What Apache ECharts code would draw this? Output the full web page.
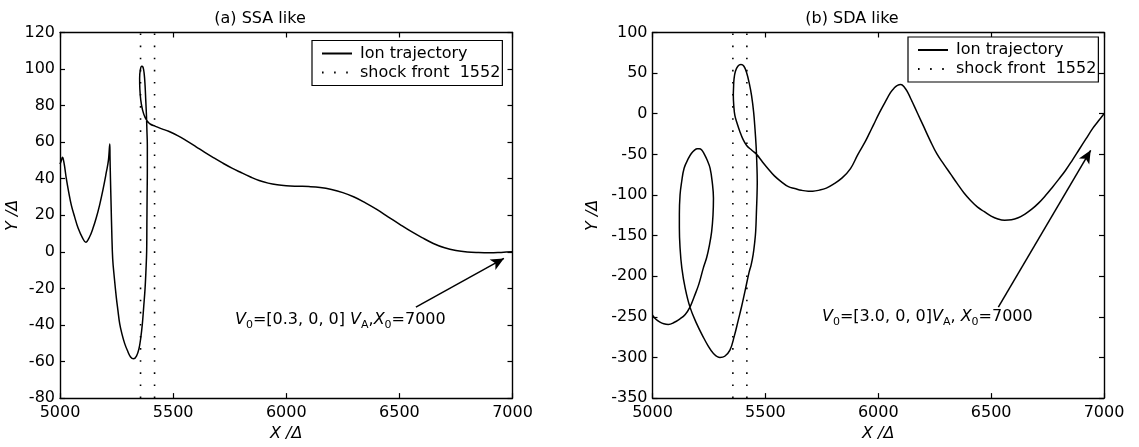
<!DOCTYPE html>
<html><head><meta charset="utf-8">
<script src="https://cdn.jsdelivr.net/npm/echarts@6/dist/echarts.min.js"></script>
<style>html,body{margin:0;padding:0;background:#fff}#c{width:1139px;height:447px}</style>
</head><body><div id="c"></div>
<script>
// ---------- data ----------
const panelTitles = ['(a) SSA like', '(b) SDA like'];
const seriesNames = ['Ion trajectory', 'shock front  1552'];
const xRange = [5000, 7000], xStep = 500;
const yRangeA = [-80, 120], yStepA = 20;
const yRangeB = [-350, 100], yStepB = 50;
const shockFront = [5356, 5418];

// (a) SSA like trajectory (x, y) in path order, starting at X0 = 7000
const trajA = [[7000,0],[6950,-0.3],[6900,-0.5],[6850,-0.4],[6800,-0.1],[6750,0.7],[6700,2.2],[6650,4.6],[6600,7.8],[6550,11.3],[6500,15.2],[6450,19.2],[6400,23.2],[6350,26.8],[6300,30],[6250,32.4],[6200,34.1],[6150,35.2],[6100,35.7],[6050,35.9],[6000,36.2],[5960,36.7],[5920,37.6],[5880,39],[5840,41.1],[5800,43.4],[5760,45.8],[5720,48.5],[5680,51.4],[5640,54.4],[5600,57.6],[5560,60.7],[5520,63.6],[5480,66],[5450,67.3],[5420,68.8],[5400,69.8],[5388,71.2],[5376,73.5],[5365,77.5],[5357,83],[5353,89],[5352,95],[5355,99.5],[5361,101.5],[5367,101],[5372,97.5],[5376,91],[5379,83],[5382,75],[5384,67],[5386,58],[5386,45],[5385,30],[5384,15],[5383,0],[5380,-10],[5376,-20],[5370,-30],[5364,-39.4],[5357,-47],[5349,-53],[5338,-57],[5325,-58.5],[5312,-57.5],[5298,-54],[5286,-50.2],[5274,-45],[5264,-39.4],[5256,-32],[5249,-25],[5240,-14],[5233,-4],[5229,10],[5226,25],[5223,40],[5221,52],[5220,59],[5214,50],[5205,43.7],[5190,34],[5175,25.6],[5160,18.5],[5146,13],[5130,8],[5114,5.3],[5100,7.5],[5080,13],[5065,19],[5050,25.6],[5038,33],[5028,40],[5020,47],[5014,51],[5011,51.8],[5006,50],[5000,48]];

// (b) SDA like trajectory (x, y) in path order, starting at X0 = 7000
const trajB = [[7000,0],[6975,-9],[6950,-18],[6920,-31],[6890,-44],[6860,-57],[6830,-69.5],[6800,-80.5],[6770,-91],[6740,-101],[6710,-110],[6680,-117.5],[6650,-123.5],[6620,-128],[6590,-130.5],[6560,-131],[6530,-129.5],[6500,-126],[6470,-120.5],[6440,-115],[6410,-107],[6380,-97.5],[6350,-86],[6320,-74],[6290,-62],[6260,-49.5],[6230,-33],[6200,-15],[6175,0],[6150,15],[6130,26.5],[6115,33],[6100,36],[6085,35],[6070,31.5],[6054,26],[6030,14],[6006,1.6],[5980,-13],[5960,-24.5],[5941,-35],[5910,-50],[5877,-67.5],[5840,-79],[5800,-87],[5770,-91.5],[5740,-94],[5710,-95.3],[5690,-95.3],[5660,-94.3],[5630,-92],[5602,-89.8],[5570,-83.5],[5540,-76.5],[5510,-67],[5485,-58.5],[5461,-50],[5440,-45],[5417,-39],[5400,-31],[5388,-22.7],[5375,-12],[5365,-2.4],[5360,10],[5358,22],[5359,32],[5361,42.3],[5367,52],[5378,58.5],[5392,60.6],[5405,58.5],[5417,50.5],[5429,37],[5439,22],[5448,2],[5454,-18.7],[5459,-40],[5462,-60],[5464,-84],[5463,-100],[5461,-116],[5457,-145],[5452,-160],[5446,-173],[5437,-186],[5428,-195],[5410,-218],[5395,-237],[5380,-254],[5362,-274],[5343,-291],[5320,-298.5],[5299,-300],[5270,-295],[5245,-285],[5225,-275],[5195,-258],[5166,-238],[5145,-215],[5130,-190],[5122,-165],[5119,-140],[5119,-124],[5122,-100],[5129,-84],[5140,-67],[5159,-55],[5172,-49],[5185,-45],[5197,-43.2],[5207,-43],[5218,-44.5],[5230,-50],[5242,-57],[5255,-67],[5265,-85],[5270,-104],[5268,-125],[5262,-145],[5252,-162],[5240,-177],[5225,-190],[5205,-210],[5185,-225],[5166,-238],[5145,-247],[5122,-252.4],[5095,-257],[5070,-259.3],[5050,-258.5],[5033,-256.5],[5015,-253],[5000,-248]];

// annotation arrows (tail, head) in data units
const arrowA = [[6573,-30.2],[6962,-3.6]];
const arrowB = [[6532,-238],[6941,-45]];

// ---------- chart ----------
const FONT = 'DejaVu Sans';
const chart = echarts.init(document.getElementById('c'), null, {renderer:'canvas'});

function xAxes(gridIndex) {
  const base = {type:'value', gridIndex, min:xRange[0], max:xRange[1], interval:xStep, splitLine:{show:false},
    axisLine:{onZero:false, lineStyle:{color:'#000', width:1.4}},
    axisTick:{inside:true, length:5, lineStyle:{color:'#000', width:1.2}}};
  return [
    Object.assign({}, base, {position:'bottom',
      axisLabel:{color:'#000', fontFamily:FONT, fontSize:16, margin:7, formatter:v => String(v)},
      name:'X /Δ', nameLocation:'middle', nameGap:26,
      nameTextStyle:{color:'#000', fontFamily:FONT, fontSize:16, fontStyle:'italic'}}),
    Object.assign({}, base, {position:'top', axisLabel:{show:false}})
  ];
}
function yAxes(gridIndex, range, step, gap) {
  const base = {type:'value', gridIndex, min:range[0], max:range[1], interval:step, splitLine:{show:false},
    axisLine:{onZero:false, lineStyle:{color:'#000', width:1.4}},
    axisTick:{inside:true, length:5, lineStyle:{color:'#000', width:1.2}}};
  return [
    Object.assign({}, base, {position:'left',
      axisLabel:{color:'#000', fontFamily:FONT, fontSize:16, margin:5, formatter:v => String(v)},
      name:'Y /Δ', nameLocation:'middle', nameGap:gap,
      nameTextStyle:{color:'#000', fontFamily:FONT, fontSize:16, fontStyle:'italic'}}),
    Object.assign({}, base, {position:'right', axisLabel:{show:false}})
  ];
}

function trajSeries(data, xi, yi, arrow) {
  return {type:'line', name:seriesNames[0], xAxisIndex:xi, yAxisIndex:yi, data,
    symbol:'none', showSymbol:false, animation:false, smooth:0.4,
    lineStyle:{color:'#000', width:1.5}, itemStyle:{color:'#000'},
    markLine:{silent:true, symbol:['none','arrow'], symbolSize:[9,13], animation:false,
      label:{show:false}, lineStyle:{color:'#000', width:1.5, type:'solid'},
      data:[[{coord:arrow[0]},{coord:arrow[1]}]]}};
}
function shockSeries(x, range, xi, yi) {
  return {type:'line', name:seriesNames[1], xAxisIndex:xi, yAxisIndex:yi,
    data:[[x, range[0]],[x, range[1]]], symbol:'none', showSymbol:false, animation:false,
    lineStyle:{color:'#000', width:1.6, type:[1.6, 10.5]}, itemStyle:{color:'#000'}};
}

const legendBase = {orient:'vertical', backgroundColor:'#fff', borderColor:'#000', borderWidth:1.2,
  borderRadius:0, padding:[5,2,5,9], itemWidth:30, itemHeight:16, itemGap:3,
  selectedMode:false,
  itemStyle:{opacity:0, borderWidth:0},
  lineStyle:{color:'#000'},
  textStyle:{color:'#000', fontFamily:FONT, fontSize:16, lineHeight:16, padding:[0,0,0,3]},
  data:seriesNames};

const subRich = {
  n:{fontFamily:FONT, fontSize:16, lineHeight:22, color:'#000'},
  i:{fontFamily:FONT, fontSize:16, lineHeight:22, fontStyle:'italic', color:'#000'},
  s:{fontFamily:FONT, fontSize:11, lineHeight:11, verticalAlign:'bottom', color:'#000'}
};

const option = {
  backgroundColor:'#fff',
  animation:false,
  title:[
    {text:panelTitles[0], left:255, top:6, textAlign:'center', textStyle:{fontFamily:FONT, fontSize:16, fontWeight:'normal', color:'#000'}},
    {text:panelTitles[1], left:847, top:6, textAlign:'center', textStyle:{fontFamily:FONT, fontSize:16, fontWeight:'normal', color:'#000'}}
  ],
  grid:[
    {left:60, top:32.5, width:452.5, height:369.2},
    {left:652.5, top:32.5, width:451.5, height:369.2}
  ],
  xAxis:[...xAxes(0), ...xAxes(1)],
  yAxis:[...yAxes(0, yRangeA, yStepA, 38), ...yAxes(1, yRangeB, yStepB, 52)],
  legend:[
    Object.assign({}, legendBase, {left:312, top:40.5}),
    Object.assign({}, legendBase, {left:908, top:37})
  ],
  series:[
    trajSeries(trajA, 0, 0, arrowA),
    shockSeries(shockFront[0], yRangeA, 0, 0),
    shockSeries(shockFront[1], yRangeA, 0, 0),
    trajSeries(trajB, 2, 2, arrowB),
    shockSeries(shockFront[0], yRangeB, 2, 2),
    shockSeries(shockFront[1], yRangeB, 2, 2)
  ],
  graphic:[
    {type:'text', left:235, top:312, silent:true,
      style:{text:'{i|V}{s|0}{n|=[0.3, 0, 0] }{i|V}{s|A}{n|,}{i|X}{s|0}{n|=7000}', rich:subRich}},
    {type:'text', left:822, top:308.5, silent:true,
      style:{text:'{i|V}{s|0}{n|=[3.0, 0, 0]}{i|V}{s|A}{n|, }{i|X}{s|0}{n|=7000}', rich:subRich}}
  ]
};
chart.setOption(option);
</script>
</body></html>
